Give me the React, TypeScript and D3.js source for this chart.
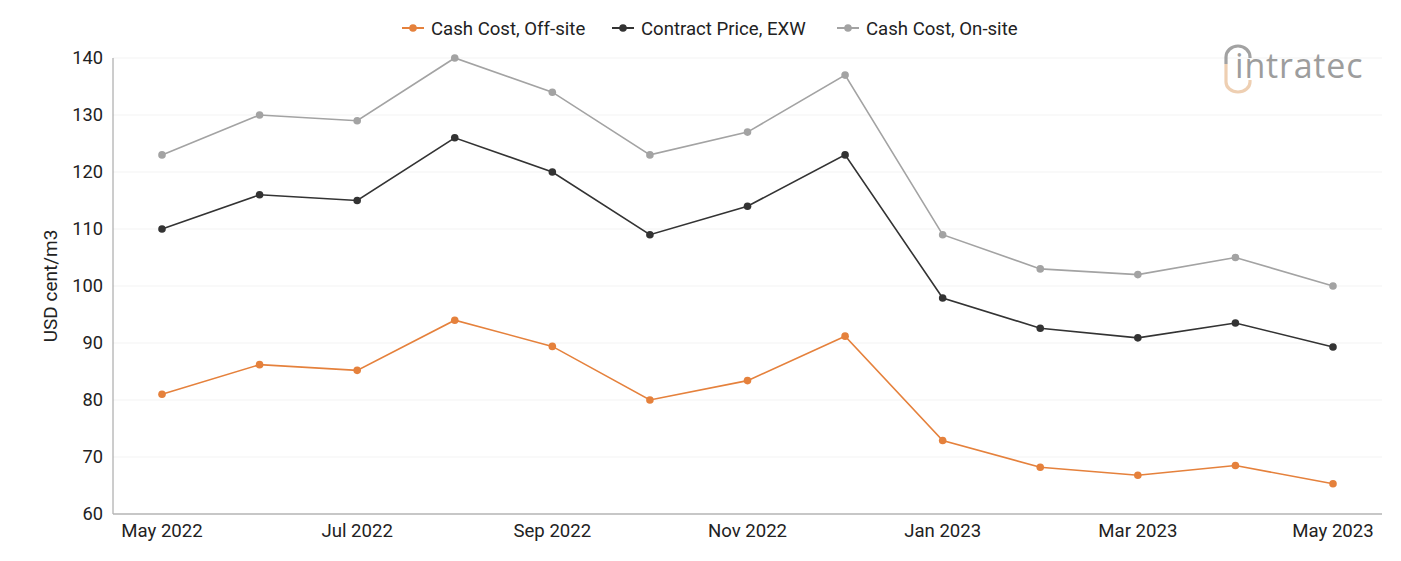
import { useEffect, useRef } from 'react';
import * as d3 from 'd3';

const months = [
  'May 2022', 'Jun 2022', 'Jul 2022', 'Aug 2022', 'Sep 2022', 'Oct 2022', 'Nov 2022',
  'Dec 2022', 'Jan 2023', 'Feb 2023', 'Mar 2023', 'Apr 2023', 'May 2023',
];
const offSite = [81, 86.2, 85.2, 94, 89.4, 80, 83.4, 91.2, 72.9, 68.2, 66.8, 68.5, 65.3];
const contractExw = [110, 116, 115, 126, 120, 109, 114, 123, 97.9, 92.6, 90.9, 93.5, 89.3];
const onSite = [123, 130, 129, 140, 134, 123, 127, 137, 109, 103, 102, 105, 100];
const yTicks = [60, 70, 80, 90, 100, 110, 120, 130, 140];

const seriesList = [
  { name: 'Cash Cost, Off-site', values: offSite, color: '#e5813c' },
  { name: 'Contract Price, EXW', values: contractExw, color: '#333333' },
  { name: 'Cash Cost, On-site', values: onSite, color: '#a3a3a3' },
];

export default function App() {
  const ref = useRef<SVGSVGElement>(null);

  useEffect(() => {
    document.body.style.margin = '0';
    const width = 1401, height = 561;
    const margin = { top: 58, right: 19, bottom: 47, left: 113 };
    const svg = d3.select(ref.current);
    svg.selectAll('*').remove();

    // months are evenly spaced
    const x = d3.scalePoint<string>()
      .domain(months)
      .range([162, 1333]);
    const y = d3.scaleLinear()
      .domain([60, 140])
      .range([height - margin.bottom, margin.top]);

    const font = 'Roboto, "Liberation Sans", sans-serif';

    // faint horizontal grid
    svg.append('g')
      .selectAll('line')
      .data(yTicks.slice(1))
      .join('line')
      .attr('x1', margin.left)
      .attr('x2', width - margin.right)
      .attr('y1', d => y(d))
      .attr('y2', d => y(d))
      .attr('stroke', '#f3f3f3')
      .attr('stroke-width', 1);

    // axis lines
    svg.append('line')
      .attr('x1', margin.left).attr('x2', margin.left)
      .attr('y1', y(140)).attr('y2', y(60))
      .attr('stroke', '#9a9a9a');
    svg.append('line')
      .attr('x1', margin.left).attr('x2', width - margin.right)
      .attr('y1', y(60)).attr('y2', y(60))
      .attr('stroke', '#b5b5b5').attr('stroke-width', 1.5);

    // y tick labels
    svg.append('g')
      .selectAll('text')
      .data(yTicks)
      .join('text')
      .attr('x', 103)
      .attr('y', d => y(d))
      .attr('dy', '0.35em')
      .attr('text-anchor', 'end')
      .attr('font-family', font)
      .attr('font-size', 18.3)
      .attr('fill', '#222')
      .text(d => d);

    // x tick labels, every other month
    svg.append('g')
      .selectAll('text')
      .data(months.filter((_, i) => i % 2 === 0))
      .join('text')
      .attr('x', d => x(d) as number)
      .attr('y', 537)
      .attr('text-anchor', 'middle')
      .attr('font-family', font)
      .attr('font-size', 18.6)
      .attr('fill', '#222')
      .text(d => d);

    svg.append('text')
      .attr('transform', `translate(57,${(y(60) + y(140)) / 2}) rotate(-90)`)
      .attr('text-anchor', 'middle')
      .attr('font-family', font)
      .attr('font-size', 19)
      .attr('fill', '#222')
      .text('USD cent/m3');

    const line = d3.line<number>()
      .x((_, i) => x(months[i]) as number)
      .y(d => y(d));

    seriesList.slice().reverse().forEach(s => {
      const g = svg.append('g');
      g.append('path')
        .datum(s.values)
        .attr('fill', 'none')
        .attr('stroke', s.color)
        .attr('stroke-width', 1.6)
        .attr('d', line);
      g.selectAll('circle')
        .data(s.values)
        .join('circle')
        .attr('cx', (_, i) => x(months[i]) as number)
        .attr('cy', d => y(d))
        .attr('r', 3.8)
        .attr('fill', s.color);
    });

    // legend
    const legendX = [402, 612, 837];
    const legend = svg.append('g');
    seriesList.forEach((s, i) => {
      const lg = legend.append('g').attr('transform', `translate(${legendX[i]},28)`);
      lg.append('line').attr('x1', 0).attr('x2', 22).attr('stroke', s.color).attr('stroke-width', 2);
      lg.append('circle').attr('cx', 11).attr('r', 3.8).attr('fill', s.color);
      lg.append('text')
        .attr('x', 29)
        .attr('dy', '0.35em')
        .attr('font-family', font)
        .attr('font-size', 18.6)
        .attr('fill', '#222')
        .text(s.name);
    });

    // logo
    const logo = svg.append('g').attr('opacity', 0.8);
    logo.append('path')
      .attr('d', 'M1226,64 L1226,57 A12,11 0 0 1 1250,57 L1250,58')
      .attr('fill', 'none').attr('stroke', '#8c8c8c').attr('stroke-width', 3.2);
    logo.append('path')
      .attr('d', 'M1226,64 L1226,82 A12,10 0 0 0 1250,82 L1250,80')
      .attr('fill', 'none').attr('stroke', '#ebc4a0').attr('stroke-width', 3.2);
    logo.append('text')
      .attr('x', 1235)
      .attr('y', 78)
      .attr('font-family', '"Open Sans", "DejaVu Sans", sans-serif')
      .attr('font-size', 34)
      .attr('letter-spacing', 0.8)
      .attr('fill', '#858585')
      .text('intratec');
  }, []);

  return <svg ref={ref} width={1401} height={561} style={{ display: 'block', background: '#fff' }} />;
}
